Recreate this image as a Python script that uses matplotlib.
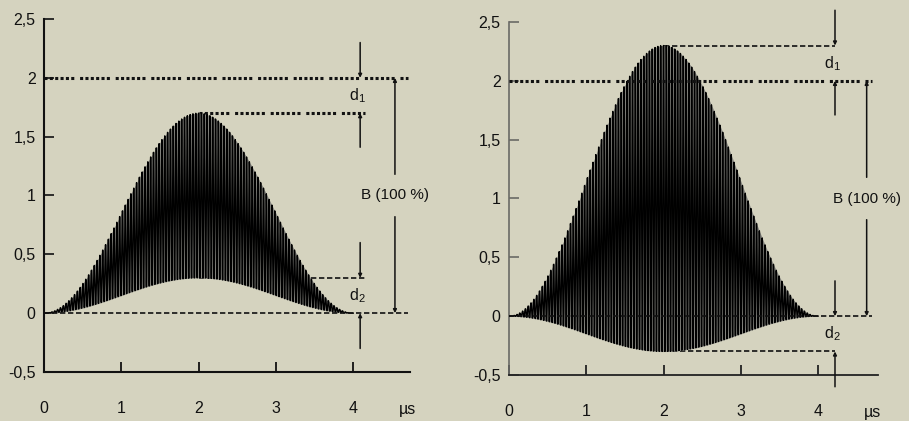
import numpy as np
import matplotlib
matplotlib.use("Agg")
import matplotlib.pyplot as plt
from matplotlib.transforms import blended_transform_factory

plt.rcParams['font.family'] = ['Liberation Sans', 'DejaVu Sans']
plt.rcParams['mathtext.fontset'] = 'custom'
plt.rcParams['mathtext.rm'] = 'Liberation Sans'
plt.rcParams['mathtext.it'] = 'Liberation Sans'

BG = '#d5d3bf'
INK = '#111111'

# Pulse parameters for each panel: peak of the upper and lower envelope
panels = ['left', 'right']
upper_peak = [1.7, 2.3]
lower_peak = [0.3, -0.3]
reference_level = 2.0          # B (100 %)
pulse_length = 4.0             # µs
carrier_cycles = 27.4          # carrier periods per µs

x_ticks = [0, 1, 2, 3, 4]
x_ticklabels = ['0', '1', '2', '3', '4']
y_ticks = [-0.5, 0, 0.5, 1, 1.5, 2, 2.5]
y_ticklabels = ['-0,5', '0', '0,5', '1', '1,5', '2', '2,5']
x_unit = 'µs'

fig = plt.figure(figsize=(9.09, 4.21), dpi=100, facecolor=BG)

axes_boxes = [
    [44 / 909, 1 - 372 / 421, 366 / 909, 353 / 421],
    [509 / 909, 1 - 375 / 421, 369 / 909, 353 / 421],
]
x_max = [366 / 77.3, 369 / 77.25]
spine_col = [(INK, INK), ('#6a6a66', '#222222')]

# geometry of the measurement markers (data units)
marker_x = [4.09, 4.22]
b_x = [4.54, 4.63]
dash_end = [4.71, 4.70]
mark_end = [4.15, 4.22]

thick_dots = (0, (1, 0.75, 1, 0.75, 1, 0.75, 1, 0.75, 1, 0.75, 1, 1.9))
thin_dash = (0, (3.2, 1.6))


def arrow(ax, x, y0, y1):
    ax.annotate('', xy=(x, y1), xytext=(x, y0),
                arrowprops=dict(arrowstyle='-|>', lw=1.1, color=INK,
                                mutation_scale=5, shrinkA=0, shrinkB=0),
                annotation_clip=False)


t = np.linspace(0, pulse_length, 60001)
env = np.sin(np.pi * t / pulse_length) ** 2
carrier = np.cos(2 * np.pi * carrier_cycles * (t - 2))

for i, name in enumerate(panels):
    ax = fig.add_axes(axes_boxes[i])
    ax.set_facecolor(BG)
    ax.patch.set_alpha(0)
    up, lo = upper_peak[i], lower_peak[i]
    mid = (up + lo) / 2
    amp = (up - lo) / 2
    signal = env * (mid + amp * carrier)
    # grey rim of the envelope, then the dense carrier trace on top
    ax.fill_between(t, env * lo, env * up, color='#84847e', lw=0, zorder=2)
    ax.plot(t, signal, color='black', lw=1.0, zorder=3)

    ax.set_xlim(0, x_max[i])
    ax.set_ylim(-0.5, 2.5)
    for s in ['top', 'right']:
        ax.spines[s].set_visible(False)
    ax.spines['left'].set_color(spine_col[i][0])
    ax.spines['bottom'].set_color(spine_col[i][1])
    ax.spines['left'].set_linewidth(1.5 if i == 0 else 1.2)
    ax.spines['bottom'].set_linewidth(1.5 if i == 0 else 1.3)
    ax.set_xticks(x_ticks)
    ax.set_xticklabels(x_ticklabels)
    ax.set_yticks(y_ticks)
    ax.set_yticklabels(y_ticklabels)
    ax.tick_params(axis='x', direction='in', length=7, width=1.3,
                   color=spine_col[i][1], pad=21, labelsize=11.5, labelcolor=INK)
    ax.tick_params(axis='y', direction='in', length=7, width=1.2,
                   color=spine_col[i][0], pad=6, labelsize=11.5, labelcolor=INK)
    trans = blended_transform_factory(ax.transData, ax.transAxes)
    ax.text(4.70, -30 / 353, x_unit, transform=trans, ha='center', va='top',
            fontsize=11.5, color=INK)

    # reference and envelope levels
    ax.plot([0, dash_end[i]], [reference_level, reference_level], color=INK,
            lw=2.2, linestyle=thick_dots, clip_on=False, zorder=4)
    ax.plot([0, dash_end[i]], [0, 0], color=INK, lw=1.2,
            linestyle=thin_dash, clip_on=False, zorder=4)
    up_style = thick_dots if i == 0 else thin_dash
    up_lw = 2.2 if i == 0 else 1.2
    ax.plot([2, mark_end[i]], [up, up], color=INK, lw=up_lw,
            linestyle=up_style, clip_on=False, zorder=1)
    ax.plot([2, mark_end[i]], [lo, lo], color=INK, lw=1.2,
            linestyle=thin_dash, clip_on=False, zorder=1)

    mx = marker_x[i]
    # d1: distance between reference level and upper envelope peak
    top1, bot1 = max(up, reference_level), min(up, reference_level)
    arrow(ax, mx, top1 + 0.30, top1)
    arrow(ax, mx, bot1 - 0.29, bot1)
    # d2: distance between zero and lower envelope peak
    top2, bot2 = max(lo, 0), min(lo, 0)
    arrow(ax, mx, top2 + 0.30, top2)
    arrow(ax, mx, bot2 - 0.30, bot2)
    ax.text(mx - 0.03, (top1 + bot1) / 2, r'd$_1$', ha='center', va='center',
            fontsize=11.5, color=INK, clip_on=False)
    ax.text(mx - 0.03, (top2 + bot2) / 2, r'd$_2$', ha='center', va='center',
            fontsize=11.5, color=INK, clip_on=False)

    # B: full reference span
    arrow(ax, b_x[i], 1.18, reference_level)
    arrow(ax, b_x[i], 0.82, 0)
    ax.text(b_x[i], 1.0, 'B (100 %)', ha='center', va='center', fontsize=11,
            color=INK, clip_on=False)

fig.savefig('out.png', dpi=100, facecolor=BG)
